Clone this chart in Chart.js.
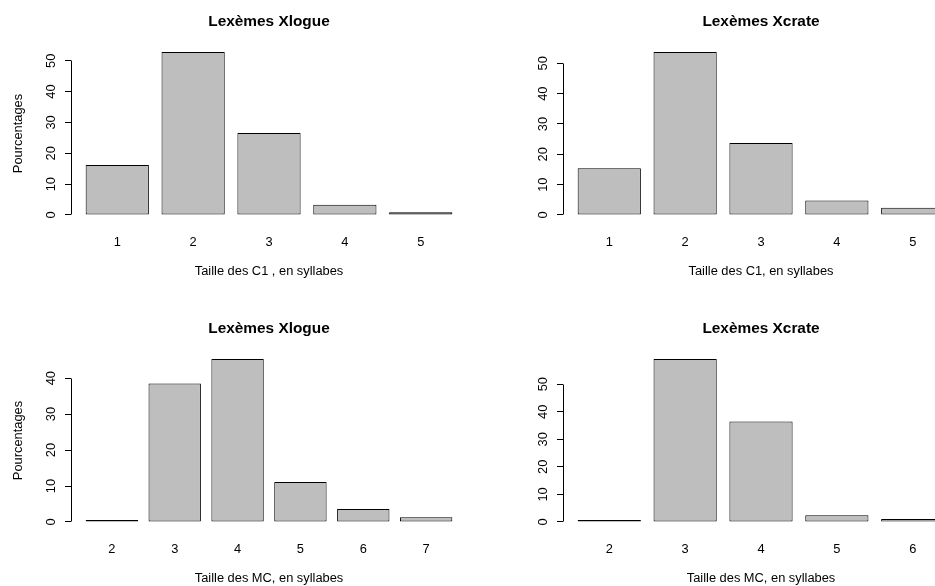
<!DOCTYPE html>
<html>
<head>
<meta charset="utf-8">
<script src="https://cdn.jsdelivr.net/npm/chart.js@4.4.1/dist/chart.umd.min.js"></script>
<style>
	html, body { margin: 0; padding: 0; background: #fff; overflow: hidden; width: 935px; height: 586px; }
	.panel { position: absolute; width: 492px; height: 293px; }
</style>
</head>
<body>
<div class="panel" style="left:0;top:0"><canvas id="c1" width="492" height="293"></canvas></div>
<div class="panel" style="left:492px;top:0"><canvas id="c2" width="492" height="293"></canvas></div>
<div class="panel" style="left:0;top:307px"><canvas id="c3" width="492" height="293"></canvas></div>
<div class="panel" style="left:492px;top:307px"><canvas id="c4" width="492" height="293"></canvas></div>
<script>
// Category labels (syllable counts).
var sizesC1 = ['1', '2', '3', '4', '5'];
var sizesMcXlogue = ['2', '3', '4', '5', '6', '7'];
var sizesMcXcrate = ['2', '3', '4', '5', '6'];

// Percentages.
var xlogueC1 = [16.2, 52.8, 26.6, 3.3, 0.9];
var xcrateC1 = [15.4, 53.7, 23.7, 4.8, 2.4];
var xlogueMC = [0.4, 38.5, 45.3, 11.1, 3.6, 1.3];
var xcrateMC = [0.6, 59.1, 36.5, 2.4, 1.1];

var tickStep = 10;

Chart.defaults.font.family = '"Liberation Sans", Arial, Helvetica, sans-serif';
Chart.defaults.color = '#000';
Chart.defaults.animation = false;

// R style y axis line: only from first to last tick.
var axisLine = {
	id: 'axisLine',
	afterDraw: function(chart) {
		var sc = chart.scales.y;
		var ticks = sc.ticks;
		var ctx = chart.ctx;
		var x = Math.round(sc.right - 0.5) + 0.5;
		ctx.save();
		ctx.strokeStyle = '#000';
		ctx.lineWidth = 1;
		ctx.beginPath();
		ctx.moveTo(x, Math.round(sc.getPixelForValue(ticks[0].value) - 0.5) + 0.5);
		ctx.lineTo(x, Math.round(sc.getPixelForValue(ticks[ticks.length - 1].value) - 0.5) + 0.5);
		ctx.stroke();
		ctx.restore();
	}
};

function drawPanel(id, title, labels, values, xTitle, showYTitle) {
	var n = labels.length;
	// barplot layout: width 1, space 0.2
	var span = 1.2 * n - 0.2;
	var top = Math.max.apply(null, values);
	var lastTick = Math.floor(top / tickStep) * tickStep;

	new Chart(document.getElementById(id), {
		type: 'bar',
		data: {
			datasets: [{
				data: values.map(function(v, i) { return { x: 0.7 + 1.2 * i, y: v }; }),
				backgroundColor: '#bebebe',
				borderColor: '#000',
				borderWidth: 1,
				borderSkipped: false,
				minBarLength: 2,
				barPercentage: 1,
				categoryPercentage: 1 / 1.2
			}]
		},
		options: {
			responsive: false,
			layout: { padding: { left: 0, right: 25, top: 0, bottom: 0 } },
			plugins: {
				legend: { display: false },
				tooltip: { enabled: false },
				title: {
					display: true,
					text: title,
					fullSize: false,
					color: '#000',
					font: { size: 15.4, weight: 'bold' },
					padding: { top: 12.8, bottom: 14.3 }
				}
			},
			scales: {
				x: {
					type: 'linear',
					offset: false,
					min: 0.2 - 0.04 * span,
					max: 1.2 * n + 0.04 * span,
					afterBuildTicks: function(axis) {
						axis.ticks = labels.map(function(l, i) { return { value: 0.7 + 1.2 * i }; });
					},
					afterFit: function(axis) { axis.height = 71.5; },
					ticks: {
						autoSkip: false,
						maxRotation: 0,
						padding: 13,
						font: { size: 12.85 },
						callback: function(v, i) { return labels[i]; }
					},
					grid: { display: false, drawTicks: false, offset: false },
					border: { display: false },
					title: {
						display: true,
						text: xTitle,
						font: { size: 12.85 },
						padding: { top: 0, bottom: 14 }
					}
				},
				y: {
					min: -0.04 * top,
					max: 1.04 * top,
					afterBuildTicks: function(axis) {
						var t = [];
						for (var v = 0; v <= lastTick; v += tickStep) t.push({ value: v });
						axis.ticks = t;
					},
					afterFit: function(axis) { axis.width = 71; },
					ticks: {
						minRotation: 90,
						maxRotation: 90,
						crossAlign: 'center',
						padding: 6,
						font: { size: 12.85 }
					},
					grid: {
						drawOnChartArea: false,
						drawTicks: true,
						tickLength: 6,
						color: '#000',
						lineWidth: 1
					},
					border: { display: false },
					title: {
						display: showYTitle,
						text: 'Pourcentages',
						font: { size: 12.85 },
						padding: { top: 10.6, bottom: 0 }
					}
				}
			}
		},
		plugins: [axisLine]
	});
}

drawPanel('c1', 'Lexèmes Xlogue', sizesC1, xlogueC1, 'Taille des C1 , en syllabes', true);
drawPanel('c2', 'Lexèmes Xcrate', sizesC1, xcrateC1, 'Taille des C1, en syllabes', false);
drawPanel('c3', 'Lexèmes Xlogue', sizesMcXlogue, xlogueMC, 'Taille des MC, en syllabes', true);
drawPanel('c4', 'Lexèmes Xcrate', sizesMcXcrate, xcrateMC, 'Taille des MC, en syllabes', false);
</script>
</body>
</html>
